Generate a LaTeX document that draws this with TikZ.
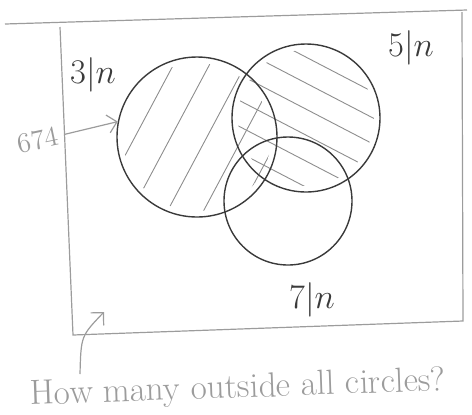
\documentclass[tikz,border=0pt]{standalone}
\usepackage{amsmath,amssymb}
\usepackage{xcolor}
\usepackage{tikz}
\usetikzlibrary{calc,arrows.meta,positioning}
\definecolor{pencil}{HTML}{3A3A3A}
\definecolor{softpen}{HTML}{9C9C9C}
\definecolor{hatchc}{HTML}{8E8E8E}
\tikzset{
  edge/.style={softpen,line width=0.6pt},
  ring/.style={circle,draw=pencil,line width=0.7pt,inner sep=0pt},
  hatch/.style={hatchc,line width=0.45pt},
  lbl/.style={pencil,font=\fontsize{16}{16}\selectfont},
  note/.style={softpen,font=\fontsize{14}{14}\selectfont},
  ar/.style={-{Straight Barb[length=1.6mm]},softpen,line width=0.6pt}
}
\begin{document}
\begin{tikzpicture}[x=0.5pt,y=-0.5pt]
\useasboundingbox (0,0) rectangle (472,414);
% page edge and frame
\draw[edge] (5,24) -- (467,10);
\draw[edge] (60,27) -- (73,335) -- (463,321) -- (462,12);
% hatching of the two shaded sets
\begin{scope}
\clip (197,137) circle (74);
\foreach \x in {44,80,...,330}{\draw[hatch] (\x,240) -- ++(112,-210);}
\end{scope}
\begin{scope}
\clip (306,118) circle (68);
\foreach \y in {-76,-50,...,220}{\draw[hatch] (200,\y) -- ++(200,104);}
\end{scope}
% the three sets
\node[ring,minimum size=80pt] (setA) at (197,137) {};
\node[ring,minimum size=74pt] (setB) at (306,118) {};
\node[ring,minimum size=64pt] (setC) at (288,201) {};
\node[lbl] (labA) at (93,75) {$3|n$};
\node[lbl] (labB) at (411,48) {$5|n$};
\node[lbl] (labC) at (312,300) {$7|n$};
% notes
\node[note,rotate=12] (lbl674) at (38,140) {674};
\draw[ar] (lbl674.east) -- (setA.169);
\node[note,font=\fontsize{17.5}{17.5}\selectfont,rotate=2] (ask) at (238,389) {How many outside all circles?};
\coordinate (tail) at (80,374);
\coordinate (tip) at (104,312);
\draw[ar] (tail) .. controls (81,336) .. (tip);
\end{tikzpicture}
\end{document}
